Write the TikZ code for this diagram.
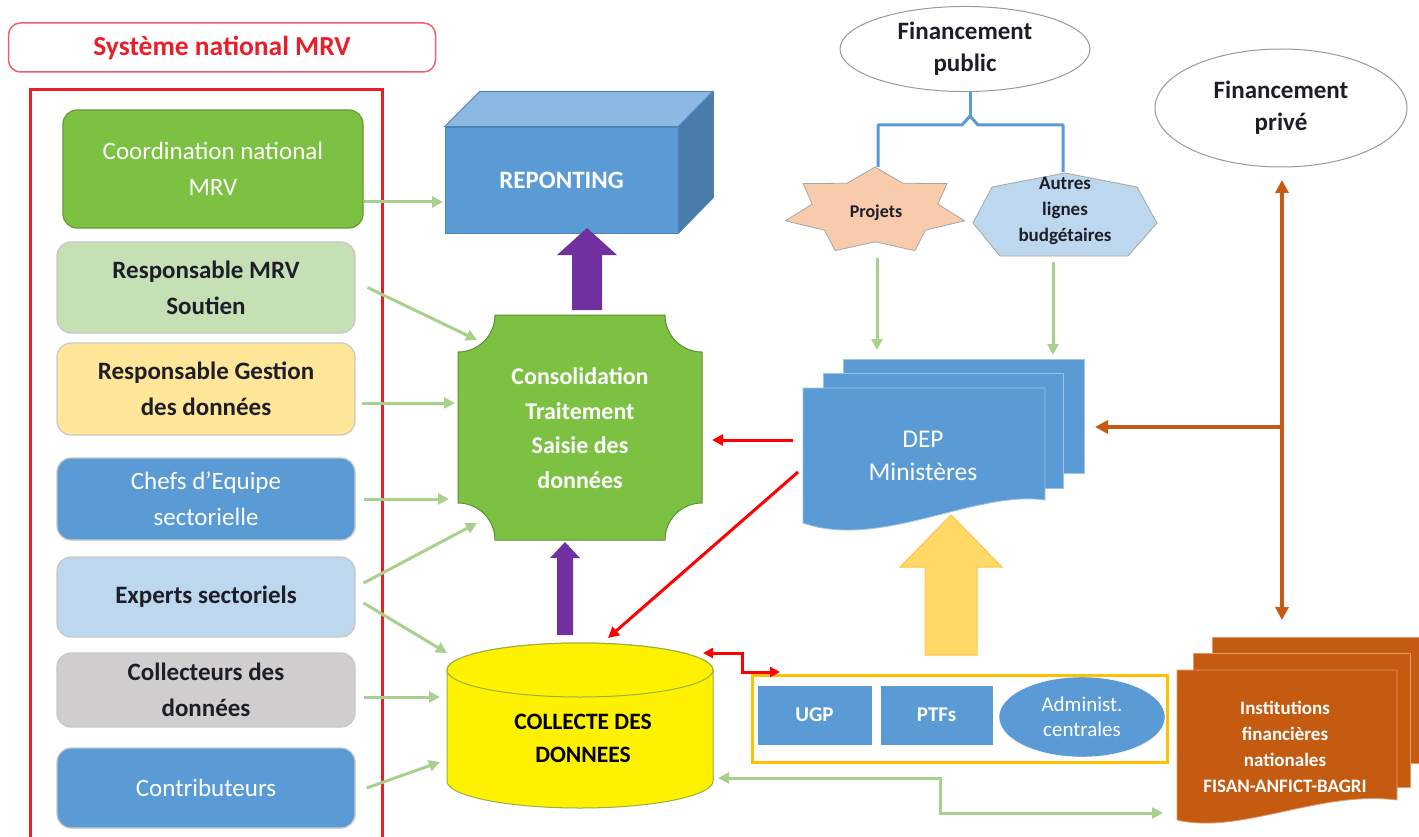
\documentclass[tikz,border=0pt]{standalone}
\usepackage{fontspec}
\setmainfont{Carlito}
\usetikzlibrary{arrows.meta,calc,shapes.geometric}
\definecolor{mgreen}{RGB}{124,193,66}
\definecolor{lgreen}{RGB}{197,224,180}
\definecolor{lyel}{RGB}{255,230,153}
\definecolor{mblue}{RGB}{91,155,213}
\definecolor{lblue}{RGB}{189,215,238}
\definecolor{lgray}{RGB}{208,206,206}
\definecolor{purp}{RGB}{112,48,160}
\definecolor{agreen}{RGB}{169,209,142}
\definecolor{orng}{RGB}{197,90,17}
\definecolor{gold}{RGB}{255,192,0}
\definecolor{yarrow}{RGB}{255,217,102}
\definecolor{peach}{RGB}{248,203,173}
\definecolor{tred}{RGB}{232,30,40}
\definecolor{dtext}{RGB}{30,30,40}
\newcommand\blockup[6]{\path[#1] let \p1=#2, \p2=#3 in (\x2-#4,\y1) -- (\x2-#4,\y2-#6) -- (\x2-#5,\y2-#6) -- (\x2,\y2) -- (\x2+#5,\y2-#6) -- (\x2+#4,\y2-#6) -- (\x2+#4,\y1) -- cycle;}
\tikzset{
 lbox/.style={rectangle, rounded corners=14pt, draw=black!22, line width=1.2pt, minimum width=298pt, align=center, font=\fontsize{25}{36}\selectfont},
 garrow/.style={draw=agreen, line width=3pt, -{Triangle[length=11pt,width=11pt]}},
 rarrow/.style={draw=red, line width=3pt, -{Triangle[length=11pt,width=11pt]}},
 oarrow/.style={draw=orng, line width=4pt, -{Triangle[length=13pt,width=13pt]}},
 sq/.style={rectangle, fill=mblue, draw=white, text=white, font=\bfseries\fontsize{21}{25}\selectfont},
 oval/.style={ellipse, draw=black!40, line width=1pt, fill=white, text=dtext, align=center, font=\bfseries\fontsize{25}{32}\selectfont},
}
\begin{document}
\begin{tikzpicture}[x=1pt,y=-1pt]
\useasboundingbox (0,0) rectangle (1419,837);
\clip (0,0) rectangle (1419,837);
\fill[white] (0,0) rectangle (1419,837);

% ---- left column
\node[rectangle, rounded corners=12pt, draw=tred!70, line width=1.5pt, minimum width=427pt, minimum height=49pt, text=tred, font=\bfseries\fontsize{27.5}{30}\selectfont] (title) at (222,47.5) {Système national MRV};
\draw[tred, line width=3pt] (30,90) rectangle (382,860);

\node[lbox, fill=mgreen, draw=mgreen!80!black, text=white, minimum width=300pt, minimum height=118pt] (coord) at (213,169) {Coordination national\\MRV};
\node[lbox, fill=lgreen, text=dtext, font=\bfseries\fontsize{25}{36}\selectfont, minimum height=91pt] (rmrv) at (206,287.5) {Responsable MRV\\Soutien};
\node[lbox, fill=lyel, text=dtext, font=\bfseries\fontsize{25}{36}\selectfont, minimum height=92pt] (rges) at (206,389) {Responsable Gestion\\des données};
\node[lbox, fill=mblue, text=white, minimum height=82pt] (chefs) at (206,499) {Chefs d’Equipe\\sectorielle};
\node[lbox, fill=lblue, text=dtext, font=\bfseries\fontsize{25}{36}\selectfont, minimum height=80pt] (exp) at (206,597) {Experts sectoriels};
\node[lbox, fill=lgray, text=dtext, font=\bfseries\fontsize{25}{36}\selectfont, minimum height=74pt] (colr) at (206,690) {Collecteurs des\\données};
\node[lbox, fill=mblue, text=white, minimum height=80pt] (contr) at (206,788) {Contributeurs};

% ---- reporting cube
\node[rectangle, fill=mblue, draw=mblue!85!black, line width=0.8pt, minimum width=233pt, minimum height=106pt, text=white, font=\bfseries\fontsize{25}{30}\selectfont] (rep) at (561.5,180) {REPONTING};
\filldraw[fill=mblue!70!white, draw=mblue!85!black, line width=0.8pt] (rep.north west) -- ++(35,-35) -- ++(233,0) -- (rep.north east) -- cycle;
\filldraw[fill=mblue!80!black, draw=mblue!85!black, line width=0.8pt] (rep.north east) -- ++(35,-35) -- ++(0,106) -- (rep.south east) -- cycle;

% ---- consolidation plaque
\filldraw[fill=mgreen, draw=mgreen!75!black, line width=1pt]
 (495,315) -- (665,315) arc[start angle=180,end angle=90,radius=37] -- (702,503) arc[start angle=270,end angle=180,radius=37]
 -- (495,540) arc[start angle=0,end angle=-90,radius=37] -- (458,352) arc[start angle=90,end angle=0,radius=37] -- cycle;
\node[align=center, text=white, font=\bfseries\fontsize{24}{34.5}\selectfont] (cons) at (580,428) {Consolidation\\Traitement\\Saisie des\\données};

% ---- cylinder
\filldraw[fill=yellow, draw=black!35!yellow!80!green, line width=1pt] (447,670) -- (447,781) arc[start angle=180,end angle=0,x radius=133,y radius=27] -- (713,670) arc[start angle=0,end angle=-180,x radius=133,y radius=27] -- cycle;
\filldraw[fill=yellow, draw=black!35!yellow!80!green, line width=1pt] (580,670) ellipse[x radius=133,y radius=27];
\node[align=center, text=black, font=\bfseries\fontsize{23.5}{33}\selectfont] (coll) at (583,738) {COLLECTE DES\\DONNEES};

% ---- purple block arrows
\coordinate (pa1s) at (587,310); \coordinate (pa1e) at (587,228);
\blockup{fill=purp}{(pa1s)}{(pa1e)}{15pt}{30pt}{27pt}
\coordinate (pa2s) at (565,635); \coordinate (pa2e) at (565,542);
\blockup{fill=purp}{(pa2s)}{(pa2e)}{8pt}{15pt}{16pt}

% ---- Financement public
\node[oval, minimum width=250pt, minimum height=82pt] (pub) at (965,49) {Financement\\public};
\draw[mblue, line width=3pt, line join=round] (878,167) -- (878,125) -- (962,125) -- (970,116) -- (978,125) -- (1063,125) -- (1063,172);
\draw[mblue, line width=3pt] (pub.south -| 970,0) -- (970,116);

% star
\filldraw[fill=peach, draw=black!35, line width=0.8pt] plot[samples at={0,1,...,13}, variable=\k] ({875+92*(1-0.3*mod(\k,2))*cos(90+\k*360/14)}, {211-44*(1-0.3*mod(\k,2))*sin(90+\k*360/14)}) -- cycle;
\node[text=dtext, font=\bfseries\fontsize{18}{22}\selectfont] (proj) at (876,213) {Projets};
% heptagon
\filldraw[fill=lblue, draw=black!35, line width=0.8pt] (1065,173) -- (1137,187) -- (1157,223) -- (1128,256) -- (1000,256) -- (973,223) -- (992,187) -- cycle;
\node[align=center, text=dtext, font=\bfseries\fontsize{19}{26}\selectfont] (autres) at (1065,211) {Autres\\lignes\\budgétaires};

% ---- Financement privé
\node[oval, minimum width=252pt, minimum height=118pt] (priv) at (1281,108) {Financement\\privé};

% ---- DEP multidocument
\filldraw[fill=mblue, draw=mblue!60!white, line width=0.8pt] (843,359) rectangle (1084,473);
\filldraw[fill=mblue, draw=mblue!60!white, line width=0.8pt] (823,373) rectangle (1063,488);
\filldraw[fill=mblue, draw=mblue!60!white, line width=0.8pt] (803,388) -- (1045,388) -- (1045,500) .. controls (975,490) and (880,550) .. (803,523) -- cycle;
\node[align=center, text=white, font=\fontsize{25.5}{33}\selectfont] (dep) at (923,456) {DEP\\Ministères};

% ---- Institutions multidocument
\filldraw[fill=orng, draw=orng!60!white, line width=0.8pt] (1212,637) rectangle (1440,763);
\filldraw[fill=orng, draw=orng!60!white, line width=0.8pt] (1193,653) rectangle (1410,787);
\filldraw[fill=orng, draw=orng!60!white, line width=0.8pt] (1177,670) -- (1397,670) -- (1397,800) .. controls (1320,790) and (1240,835) .. (1177,820) -- cycle;
\node[align=center, text=white, font=\bfseries\fontsize{19}{26}\selectfont] (inst) at (1285,747) {Institutions\\financières\\nationales\\FISAN-ANFICT-BAGRI};

% ---- container with UGP/PTFs/Admin
\draw[gold, line width=3pt] (752,675) rectangle (1167,762);
\node[sq, minimum width=115pt, minimum height=60pt] (ugp) at (814.5,715) {UGP};
\node[sq, minimum width=113pt, minimum height=60pt] (ptf) at (936.5,715) {PTFs};
\node[ellipse, fill=mblue, draw=white, minimum width=166pt, minimum height=80pt, text=white, align=center, font=\fontsize{21}{25}\selectfont] (adm) at (1082,717) {Administ.\\centrales};

% ---- yellow block arrow
\coordinate (ya1) at (951,655); \coordinate (ya2) at (951,515);
\blockup{fill=yarrow, draw=yarrow!75!orange, line width=1pt}{(ya1)}{(ya2)}{26pt}{51pt}{52pt}

% ---- green arrows
\coordinate (c0) at (443,202);
\draw[garrow] (coord.east |- c0) -- (c0);
\coordinate (c1) at (477,340);
\draw[garrow] ([shift={(12,0)}]rmrv.east) -- (c1);
\coordinate (c5) at (455,403);
\draw[garrow] ([xshift=6]rges.east |- c5) -- (c5);
\coordinate (c6) at (449,499);
\draw[garrow] ([xshift=8]chefs.east) -- (c6);
\coordinate (c2) at (477,523);
\draw[garrow] ([shift={(8,-14)}]exp.east) -- (c2);
\coordinate (c3) at (447,653);
\draw[garrow] ([shift={(8,6)}]exp.east) -- (c3);
\coordinate (c7) at (440,697);
\draw[garrow] ([xshift=8]colr.east |- c7) -- (c7);
\coordinate (c4) at (440,762);
\draw[garrow] ([shift={(11,0)}]contr.east) -- (c4);
\coordinate (c8) at (877,350);
\draw[garrow] (c8 |- 0,258) -- (c8);
\coordinate (c9) at (1053,355);
\draw[garrow] (c9 |- 0,262) -- (c9);
\coordinate (g1) at (718,778); \coordinate (g2) at (1163,813);
\draw[garrow, {Triangle[length=11pt,width=11pt]}-{Triangle[length=11pt,width=11pt]}] (g1) -- (940,778) -- (940,813) -- (g2);

% ---- red arrows
\coordinate (r1) at (793,440); \coordinate (r2) at (712,440);
\draw[rarrow] (r1) -- (r2);
\coordinate (r3) at (798,472); \coordinate (r4) at (608,638);
\draw[rarrow] (r3) -- (r4);
\coordinate (r5) at (703,653); \coordinate (r6) at (780,672);
\draw[rarrow, {Triangle[length=10pt,width=10pt]}-{Triangle[length=10pt,width=10pt]}] (r5) -- (742,653) -- (742,672) -- (r6);

% ---- orange arrows
\coordinate (o1) at (1282,180); \coordinate (o2) at (1282,620); \coordinate (o3) at (1282,427); \coordinate (o4) at (1095,427);
\draw[oarrow, {Triangle[length=13pt,width=13pt]}-{Triangle[length=13pt,width=13pt]}] (o1) -- (o2);
\draw[oarrow] (o3) -- (o4);
\end{tikzpicture}
\end{document}
